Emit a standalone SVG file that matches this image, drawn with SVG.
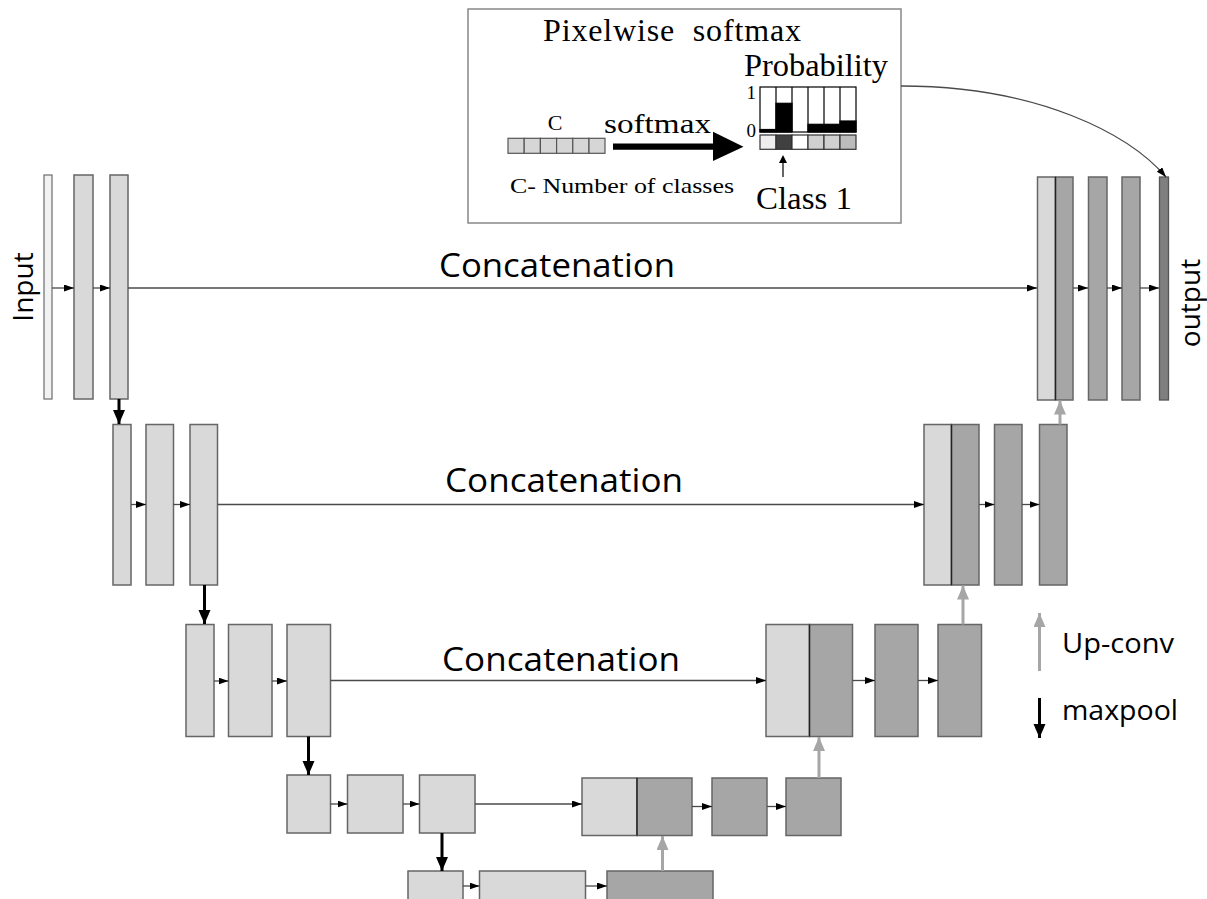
<svg xmlns="http://www.w3.org/2000/svg" width="1207" height="899" viewBox="0 0 1207 899">
<defs>
<style>
.lt{fill:#d9d9d9;stroke:#666;stroke-width:1.5}
.dk{fill:#a6a6a6;stroke:#666;stroke-width:1.5}
.sp{stroke:#222;stroke-width:1.3}
.cn{stroke:#4a4a4a;stroke-width:1.3;fill:none;marker-end:url(#ah)}
.mp{stroke:#000;stroke-width:3;fill:none;marker-end:url(#mh)}
.up{stroke:#a6a6a6;stroke-width:3;fill:none;marker-end:url(#uh)}
.sans{font-family:"Open Sans","Liberation Sans",sans-serif;fill:#000}
.ser{font-family:"Liberation Serif","Times New Roman",serif;fill:#000}
</style>
<marker id="ah" markerUnits="userSpaceOnUse" markerWidth="11" markerHeight="8" refX="10" refY="3.5" orient="auto"><path d="M0,0 L10,3.5 L0,7 z" fill="#000"/></marker>
<marker id="mh" markerUnits="userSpaceOnUse" markerWidth="15" markerHeight="13" refX="14" refY="6" orient="auto"><path d="M0,0 L14,6 L0,12 z" fill="#000"/></marker>
<marker id="uh" markerUnits="userSpaceOnUse" markerWidth="15" markerHeight="13" refX="14" refY="6" orient="auto"><path d="M0,0 L14,6 L0,12 z" fill="#a6a6a6"/></marker>
</defs>
<rect width="1207" height="899" fill="#fff"/>

<g id="inset">
<rect x="468" y="9" width="433" height="214" fill="#fff" stroke="#888" stroke-width="1.5"/>
<text class="ser" x="672" y="41" font-size="32" text-anchor="middle" textLength="258" lengthAdjust="spacing" xml:space="preserve">Pixelwise  softmax</text>
<text class="ser" x="744" y="76" font-size="32" textLength="144" lengthAdjust="spacingAndGlyphs">Probability</text>
<text class="ser" x="756" y="99" font-size="19" text-anchor="end">1</text>
<text class="ser" x="756" y="137" font-size="19" text-anchor="end">0</text>
<g stroke="#000" stroke-width="1.2">
<rect x="760" y="87" width="96" height="45" fill="#fff"/>
<rect x="776" y="103.3" width="16" height="28.7" fill="#000"/>
<rect x="760" y="129.5" width="16" height="2.5" fill="#000"/>
<rect x="808" y="124.3" width="32" height="7.7" fill="#000"/>
<rect x="840" y="121" width="16" height="11" fill="#000"/>
<path d="M776,87V132M792,87V132M808,87V132M824,87V132M840,87V132" fill="none"/>
</g>
<g stroke="#333" stroke-width="1.2">
<rect x="760" y="135" width="16" height="14.3" fill="#eeeeee"/>
<rect x="776" y="135" width="16" height="14.3" fill="#404040"/>
<rect x="792" y="135" width="16" height="14.3" fill="#ffffff"/>
<rect x="808" y="135" width="16" height="14.3" fill="#d0d0d0"/>
<rect x="824" y="135" width="16" height="14.3" fill="#d0d0d0"/>
<rect x="840" y="135" width="16" height="14.3" fill="#bcbcbc"/>
</g>
<path d="M783,177 V160" stroke="#000" stroke-width="1.2"/>
<path d="M779,163 L783,155 L787,163 z" fill="#000"/>
<text class="ser" x="756" y="209" font-size="32" textLength="96" lengthAdjust="spacingAndGlyphs">Class 1</text>
<text class="ser" x="555" y="130" font-size="22" text-anchor="middle">C</text>
<g fill="#d6d6d6" stroke="#555" stroke-width="1.2">
<rect x="508" y="138.3" width="16.2" height="15"/>
<rect x="524.2" y="138.3" width="16.2" height="15"/>
<rect x="540.4" y="138.3" width="16.2" height="15"/>
<rect x="556.6" y="138.3" width="16.2" height="15"/>
<rect x="572.8" y="138.3" width="16.2" height="15"/>
<rect x="589" y="138.3" width="16" height="15"/>
</g>
<text class="ser" x="604" y="133" font-size="27" textLength="107" lengthAdjust="spacingAndGlyphs">softmax</text>
<path d="M613,143.5 H713 V131.7 L743.5,146.7 L713,161 V149.8 H613 z" fill="#000"/>
<text class="ser" x="510" y="193" font-size="22" textLength="224" lengthAdjust="spacingAndGlyphs">C- Number of classes</text>
</g>

<g id="level1-left">
<rect x="44" y="175" width="8" height="224" fill="#f2f2f2" stroke="#777" stroke-width="1.3"/>
<rect class="lt" x="74" y="175" width="19" height="224"/>
<rect class="lt" x="110" y="175" width="18" height="224"/>
</g>
<g id="level1-right">
<rect x="1037.5" y="177" width="18" height="223" fill="#d9d9d9" stroke="#666" stroke-width="1.5"/>
<rect class="dk" x="1055.5" y="177" width="17.5" height="223"/>
<line class="sp" x1="1055.5" y1="177" x2="1055.5" y2="400"/>
<rect class="dk" x="1088.5" y="177" width="18.5" height="223"/>
<rect class="dk" x="1122" y="177" width="18" height="223"/>
<rect x="1159.5" y="177" width="9" height="223" fill="#7f7f7f" stroke="#555" stroke-width="1.3"/>
</g>

<g id="level2-left">
<rect class="lt" x="113" y="424.5" width="18" height="160.5"/>
<rect class="lt" x="146" y="424.5" width="27.5" height="160.5"/>
<rect class="lt" x="190" y="424.5" width="27.5" height="160.5"/>
</g>
<g id="level2-right">
<rect class="lt" x="924" y="424.5" width="27.5" height="160.5"/>
<rect class="dk" x="951.5" y="424.5" width="27.5" height="160.5"/>
<line class="sp" x1="951.5" y1="424.5" x2="951.5" y2="585"/>
<rect class="dk" x="994.5" y="424.5" width="27.5" height="160.5"/>
<rect class="dk" x="1039.5" y="424.5" width="27.5" height="160.5"/>
</g>

<g id="level3-left">
<rect class="lt" x="186" y="624.5" width="28" height="112"/>
<rect class="lt" x="228.5" y="624.5" width="43.5" height="112"/>
<rect class="lt" x="287" y="624.5" width="43.5" height="112"/>
</g>
<g id="level3-right">
<rect class="lt" x="766" y="624.5" width="43.5" height="112"/>
<rect class="dk" x="809.5" y="624.5" width="43" height="112"/>
<line class="sp" x1="809.5" y1="624.5" x2="809.5" y2="736.5"/>
<rect class="dk" x="875" y="624.5" width="43" height="112"/>
<rect class="dk" x="938" y="624.5" width="43.5" height="112"/>
</g>

<g id="level4-left">
<rect class="lt" x="287" y="775" width="43.5" height="58"/>
<rect class="lt" x="347.5" y="775" width="55.5" height="58"/>
<rect class="lt" x="419.5" y="775" width="55.5" height="58"/>
</g>
<g id="level4-right">
<rect class="lt" x="582" y="778" width="55" height="57.5"/>
<rect class="dk" x="637" y="778" width="55" height="57.5"/>
<line class="sp" x1="637" y1="778" x2="637" y2="835.5"/>
<rect class="dk" x="712" y="778" width="55" height="57.5"/>
<rect class="dk" x="786" y="778" width="55" height="57.5"/>
</g>

<g id="level5">
<rect class="lt" x="408" y="871" width="55" height="40"/>
<rect class="lt" x="479.5" y="871" width="106" height="40"/>
<rect class="dk" x="607" y="871" width="106" height="40"/>
</g>

<g id="connectors">
<line class="cn" x1="52" y1="288" x2="74" y2="288"/>
<line class="cn" x1="93" y1="288" x2="110" y2="288"/>
<line class="cn" x1="128" y1="288" x2="1037" y2="288"/>
<line class="cn" x1="1073" y1="288" x2="1088" y2="288"/>
<line class="cn" x1="1107" y1="288" x2="1122" y2="288"/>
<line class="cn" x1="1140" y1="288" x2="1159" y2="288"/>

<line class="cn" x1="131" y1="504.5" x2="146" y2="504.5"/>
<line class="cn" x1="173.5" y1="504.5" x2="190" y2="504.5"/>
<line class="cn" x1="217.5" y1="504.5" x2="924" y2="504.5"/>
<line class="cn" x1="979" y1="504.5" x2="994.5" y2="504.5"/>
<line class="cn" x1="1022" y1="504.5" x2="1039.5" y2="504.5"/>

<line class="cn" x1="214" y1="681" x2="228.5" y2="681"/>
<line class="cn" x1="272" y1="681" x2="287" y2="681"/>
<line class="cn" x1="330.5" y1="680.5" x2="766" y2="680.5"/>
<line class="cn" x1="852.5" y1="680.5" x2="875" y2="680.5"/>
<line class="cn" x1="918" y1="680.5" x2="938" y2="680.5"/>

<line class="cn" x1="330.5" y1="804" x2="347.5" y2="804"/>
<line class="cn" x1="403" y1="804" x2="419.5" y2="804"/>
<line class="cn" x1="475" y1="804" x2="582" y2="804"/>
<line class="cn" x1="692" y1="806.5" x2="712" y2="806.5"/>
<line class="cn" x1="767" y1="806.5" x2="786" y2="806.5"/>

<line class="cn" x1="463" y1="886" x2="479.5" y2="886"/>
<line class="cn" x1="585.5" y1="886" x2="607" y2="886"/>

<line class="mp" x1="119" y1="399" x2="119" y2="424"/>
<line class="mp" x1="204.5" y1="585" x2="204.5" y2="624"/>
<line class="mp" x1="308.5" y1="736.5" x2="308.5" y2="775"/>
<line class="mp" x1="442" y1="833" x2="442" y2="871"/>

<line class="up" x1="662.5" y1="871" x2="662.5" y2="836"/>
<line class="up" x1="819" y1="778" x2="819" y2="737"/>
<line class="up" x1="963" y1="624.5" x2="963" y2="585.5"/>
<line class="up" x1="1060" y1="424.5" x2="1060" y2="400.5"/>

<path class="cn" d="M901,86 C1040,86 1130,135 1166,177"/>
</g>

<g id="labels">
<text class="sans" x="557" y="277" font-size="33" text-anchor="middle" textLength="236" lengthAdjust="spacingAndGlyphs">Concatenation</text>
<text class="sans" x="564" y="492" font-size="33" text-anchor="middle" textLength="238" lengthAdjust="spacingAndGlyphs">Concatenation</text>
<text class="sans" x="561" y="671" font-size="33" text-anchor="middle" textLength="238" lengthAdjust="spacingAndGlyphs">Concatenation</text>
<text class="sans" transform="translate(33,287) rotate(-90)" font-size="28" text-anchor="middle">Input</text>
<text class="sans" transform="translate(1200,303) rotate(-90)" font-size="28" text-anchor="middle">output</text>
</g>

<g id="legend">
<line class="up" x1="1039.5" y1="671" x2="1039.5" y2="613"/>
<text class="sans" x="1062" y="653" font-size="28" textLength="112" lengthAdjust="spacingAndGlyphs">Up-conv</text>
<line class="mp" x1="1039.5" y1="698" x2="1039.5" y2="738"/>
<text class="sans" x="1062" y="720" font-size="28" textLength="116" lengthAdjust="spacingAndGlyphs">maxpool</text>
</g>
</svg>
